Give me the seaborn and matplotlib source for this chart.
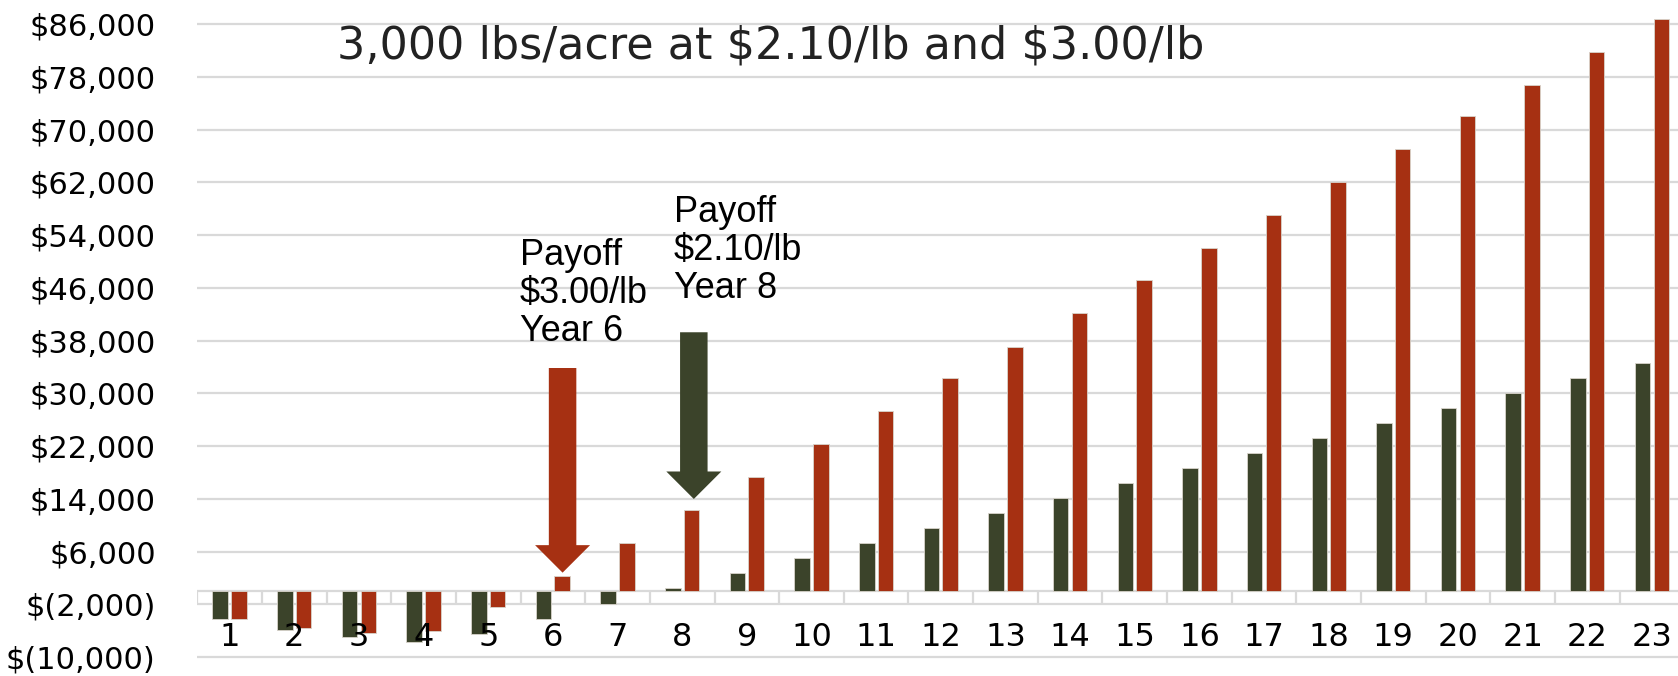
"""Cumulative net return per year for two hop prices, as grouped bars."""

import matplotlib

matplotlib.use("Agg")
import matplotlib.pyplot as plt
import pandas as pd
import seaborn as sns
from matplotlib.patches import FancyArrowPatch

# values
years = list(range(1, 24))
net_210 = [-4260, -5880, -6990, -7650, -6500, -4250, -2000, 440, 2710, 4990,
           7260, 9540, 11880, 14150, 16400, 18630, 20900, 23180, 25460, 27730,
           30010, 32280, 34550]
net_300 = [-4260, -5630, -6290, -6040, -2450, 2300, 7260, 12300, 17270, 22270,
           27300, 32330, 37100, 42120, 47150, 52050, 57050, 62080, 66980, 72010,
           76800, 81760, 86760]
series_names = ["$2.10/lb", "$3.00/lb"]
series_colors = ["#3b432a", "#a63012"]

y_ticks = [-10000, -2000, 6000, 14000, 22000, 30000, 38000, 46000, 54000,
           62000, 70000, 78000, 86000]
y_tick_labels = ["$(10,000)", "$(2,000)", "$6,000", "$14,000", "$22,000",
                 "$30,000", "$38,000", "$46,000", "$54,000", "$62,000",
                 "$70,000", "$78,000", "$86,000"]

subtitle = "3,000 lbs/acre at $2.10/lb and $3.00/lb"
note_300 = "Payoff\n$3.00/lb\nYear 6"
note_210 = "Payoff\n$2.10/lb\nYear 8"

df = pd.DataFrame({
    "Year": years * 2,
    "Price": [series_names[0]] * len(years) + [series_names[1]] * len(years),
    "Net": net_210 + net_300,
})

sns.set_style("white")
plt.rcParams["text.parse_math"] = False
plt.rcParams["font.family"] = ["DejaVu Sans"]

fig = plt.figure(figsize=(16.78, 6.76), dpi=100)
ax = fig.add_axes([197.3 / 1678, 0, 1 - 197.3 / 1678, 1])

sns.barplot(
    data=df, x="Year", y="Net", hue="Price", hue_order=series_names,
    palette=series_colors, saturation=1, width=0.58, gap=0.17,
    errorbar=None, legend=False, edgecolor="#d8d4cc", linewidth=0.6, ax=ax,
)

grid_col = "#d9d9d9"
ax.set_axisbelow(True)
ax.set_yticks(y_ticks)
ax.set_yticklabels(y_tick_labels, fontsize=22, color="black")
ax.grid(axis="y", color=grid_col, linewidth=1.6)
ax.grid(axis="x", visible=False)
ax.tick_params(axis="y", length=0, pad=30)
ax.tick_params(axis="x", length=0, labelbottom=False)
ax.set_xlim(-0.5, 22.403)
ax.set_ylim(-12860, 89640)
ax.set_xlabel("")
ax.set_ylabel("")
sns.despine(ax=ax, left=True, bottom=True)

# category axis at zero with box-like tick marks down to the next gridline
ax.axhline(0, color=grid_col, linewidth=1.6, zorder=0.6)
ax.vlines([i - 0.5 for i in range(len(years) + 1)], -2000, 0,
          color=grid_col, linewidth=1.6, zorder=0.6)

# year labels sit low, inside the plot area
for i, yr in enumerate(years):
    ax.text(i, -7000, str(yr), ha="center", va="center", fontsize=23,
            color="black", zorder=5)

fig.text(336.7 / 1678, 1 - 46.3 / 676, subtitle, ha="left", va="center",
         fontsize=32, color="#222222")

# payoff call-outs
ax.text(4.49, 53620, note_300, ha="left", va="top", fontsize=26,
        linespacing=1.12, family="Liberation Sans", color="black", zorder=6)
ax.text(6.87, 60080, note_210, ha="left", va="top", fontsize=26,
        linespacing=1.12, family="Liberation Sans", color="black", zorder=6)

style = "simple,head_length=19.8,head_width=39.6,tail_width=19.8"
ax.add_patch(FancyArrowPatch((5.15, 33840), (5.15, 2810), arrowstyle=style,
                             mutation_scale=1, shrinkA=0, shrinkB=0,
                             color=series_colors[1], linewidth=0, zorder=6))
ax.add_patch(FancyArrowPatch((7.18, 39260), (7.18, 13980), arrowstyle=style,
                             mutation_scale=1, shrinkA=0, shrinkB=0,
                             color=series_colors[0], linewidth=0, zorder=6))

fig.savefig("out.png", dpi=100)
